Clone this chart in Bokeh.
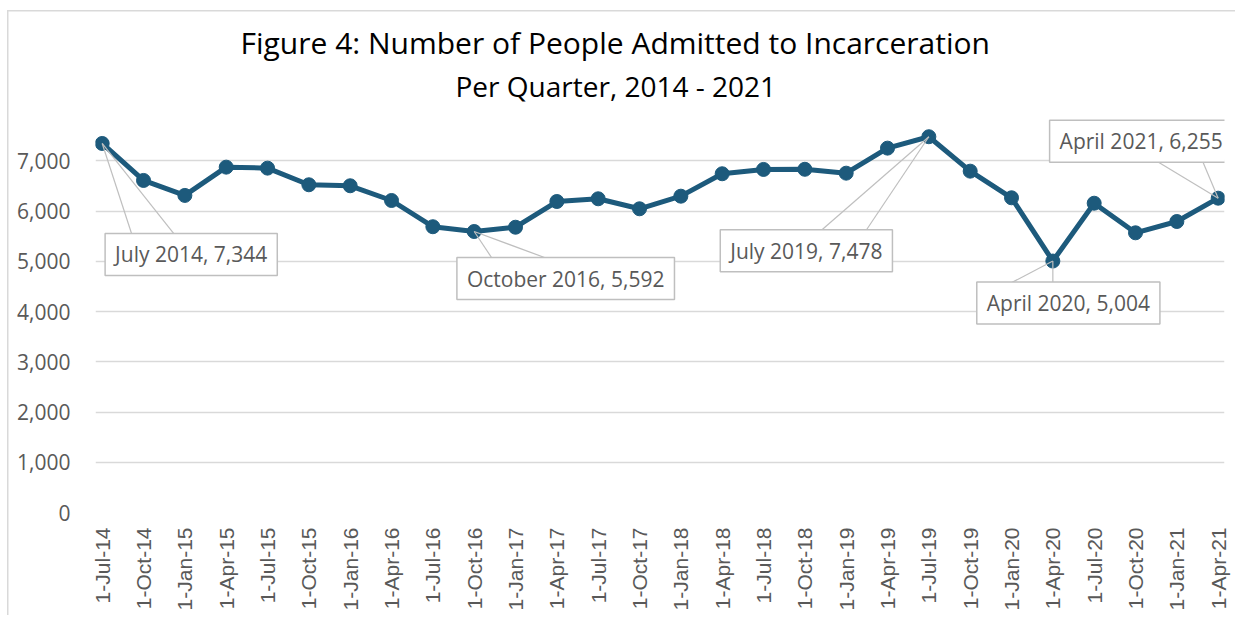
from bokeh.plotting import figure
from bokeh.models import Range1d, FixedTicker, Label, Title, ColumnDataSource, NumeralTickFormatter
from bokeh.embed import file_html
from bokeh.resources import INLINE
import math

# ---------------- data ----------------
quarters = ["1-Jul-14", "1-Oct-14", "1-Jan-15", "1-Apr-15", "1-Jul-15", "1-Oct-15",
            "1-Jan-16", "1-Apr-16", "1-Jul-16", "1-Oct-16", "1-Jan-17", "1-Apr-17",
            "1-Jul-17", "1-Oct-17", "1-Jan-18", "1-Apr-18", "1-Jul-18", "1-Oct-18",
            "1-Jan-19", "1-Apr-19", "1-Jul-19", "1-Oct-19", "1-Jan-20", "1-Apr-20",
            "1-Jul-20", "1-Oct-20", "1-Jan-21", "1-Apr-21"]
admissions = [7344, 6608, 6310, 6873, 6853, 6522, 6502, 6209, 5687, 5592, 5677, 6189,
              6243, 6044, 6295, 6741, 6827, 6830, 6753, 7251, 7478, 6793, 6263, 5004,
              6155, 5566, 5791, 6255]
y_ticks = [0, 1000, 2000, 3000, 4000, 5000, 6000, 7000]

callout_index = [0, 9, 20, 23, 27]
callout_text = ["July 2014, 7,344", "October 2016, 5,592", "July 2019, 7,478",
                "April 2020, 5,004", "April 2021, 6,255"]

# ---------------- layout (pixels) ----------------
W, H = 1235, 615
ML, MR, MT, MB = 95, 11, 110, 103
FW, FH = W - ML - MR, H - MT - MB
X0, X1 = -0.162, 27.153
Y0, Y1 = 0, 8000
PX_X = FW / (X1 - X0)
PX_Y = FH / (Y1 - Y0)

# callout box centre offset (dx right, dy down) and wedge base points, in px
box_offsets = [(89, 111), (91.5, 47), (-122.5, 114), (15.5, 42), (-77, -57)]
wedge_bases = [((30, 92), (73, 92)), ((18, 27), (73, 27)), ((-108, 94), (-63, 94)),
               ((-44, 23), (0, 23)), ((-63, -38), (-16, -38))]

LINE_COLOR = "#1d5a7c"
GRID = "#d9d9d9"
TXT = "#595959"
FONT = "Open Sans"

# light chart-area border: left and top edges drawn as a CSS background behind a
# transparent canvas border (the rest of the border lies outside the picture)
border_css = ("linear-gradient(#d9d9d9, #d9d9d9) 7px 10px / 1.5px 100% no-repeat, "
              "linear-gradient(#d9d9d9, #d9d9d9) 7px 10px / 100% 1.5px no-repeat, white")

p = figure(width=W, height=H, x_range=Range1d(X0, X1), y_range=Range1d(Y0, Y1),
           output_backend="svg", toolbar_location=None,
           min_border_left=ML, min_border_right=MR, min_border_top=MT, min_border_bottom=MB,
           title="Figure 4: Number of People Admitted to Incarceration",
           styles={"background": border_css})
p.outline_line_color = None
p.background_fill_color = "white"
p.border_fill_color = None

p.title.text_font = FONT
p.title.text_font_size = "30px"
p.title.text_font_style = "normal"
p.title.text_color = "black"
p.title.align = "left"
p.title.offset = 145
p.title.standoff = -8

sub = Title(text="Per Quarter, 2014 - 2021", text_font=FONT, text_font_size="28px",
            text_font_style="normal", text_color="black", align="left", offset=360,
            standoff=12)
p.add_layout(sub, "above")

# axes
p.xaxis.ticker = FixedTicker(ticks=list(range(len(quarters))))
p.xaxis.major_label_overrides = {i: q for i, q in enumerate(quarters)}
p.xaxis.major_label_orientation = math.pi / 2
p.xaxis.major_label_text_font = "Liberation Sans"
p.xaxis.major_label_text_font_size = "21px"
p.xaxis.major_label_text_color = TXT
p.xaxis.axis_line_color = None
p.xaxis.major_tick_line_color = None
p.xaxis.minor_tick_line_color = None
p.xaxis.major_label_standoff = 9

p.yaxis.ticker = FixedTicker(ticks=y_ticks)
p.yaxis.formatter = NumeralTickFormatter(format="0,0")
p.yaxis.major_label_text_font = FONT
p.yaxis.major_label_text_font_size = "21px"
p.yaxis.major_label_text_color = TXT
p.yaxis.axis_line_color = None
p.yaxis.major_tick_line_color = None
p.yaxis.minor_tick_line_color = None
p.yaxis.major_label_standoff = 19

p.xgrid.grid_line_color = None
p.ygrid.ticker = FixedTicker(ticks=y_ticks)
p.ygrid.grid_line_color = GRID
p.ygrid.grid_line_width = 1.5

src = ColumnDataSource(dict(x=list(range(len(quarters))), y=admissions))
p.line("x", "y", source=src, line_color=LINE_COLOR, line_width=5)
p.scatter("x", "y", source=src, size=14, fill_color=LINE_COLOR, line_color=LINE_COLOR)

# callout wedges and boxes
sx0, sy0, sx1, sy1 = [], [], [], []
for k, idx in enumerate(callout_index):
    px, py = idx, admissions[idx]
    for (dx, dy) in wedge_bases[k]:
        sx0.append(px); sy0.append(py)
        sx1.append(px + dx / PX_X); sy1.append(py - dy / PX_Y)
p.segment(sx0, sy0, sx1, sy1, line_color="#bfbfbf", line_width=1.2)

for k, idx in enumerate(callout_index):
    dx, dy = box_offsets[k]
    lab = Label(x=idx + dx / PX_X, y=admissions[idx] - dy / PX_Y, text=callout_text[k],
                text_align="center", text_baseline="middle", text_font=FONT,
                text_font_size="21px", text_color=TXT,
                background_fill_color="white", border_line_color="#bfbfbf",
                border_line_width=1.5,
                padding=dict(left=10, right=10, top=7, bottom=7))
    p.add_layout(lab)

open("out.html", "w").write(file_html(p, INLINE))
